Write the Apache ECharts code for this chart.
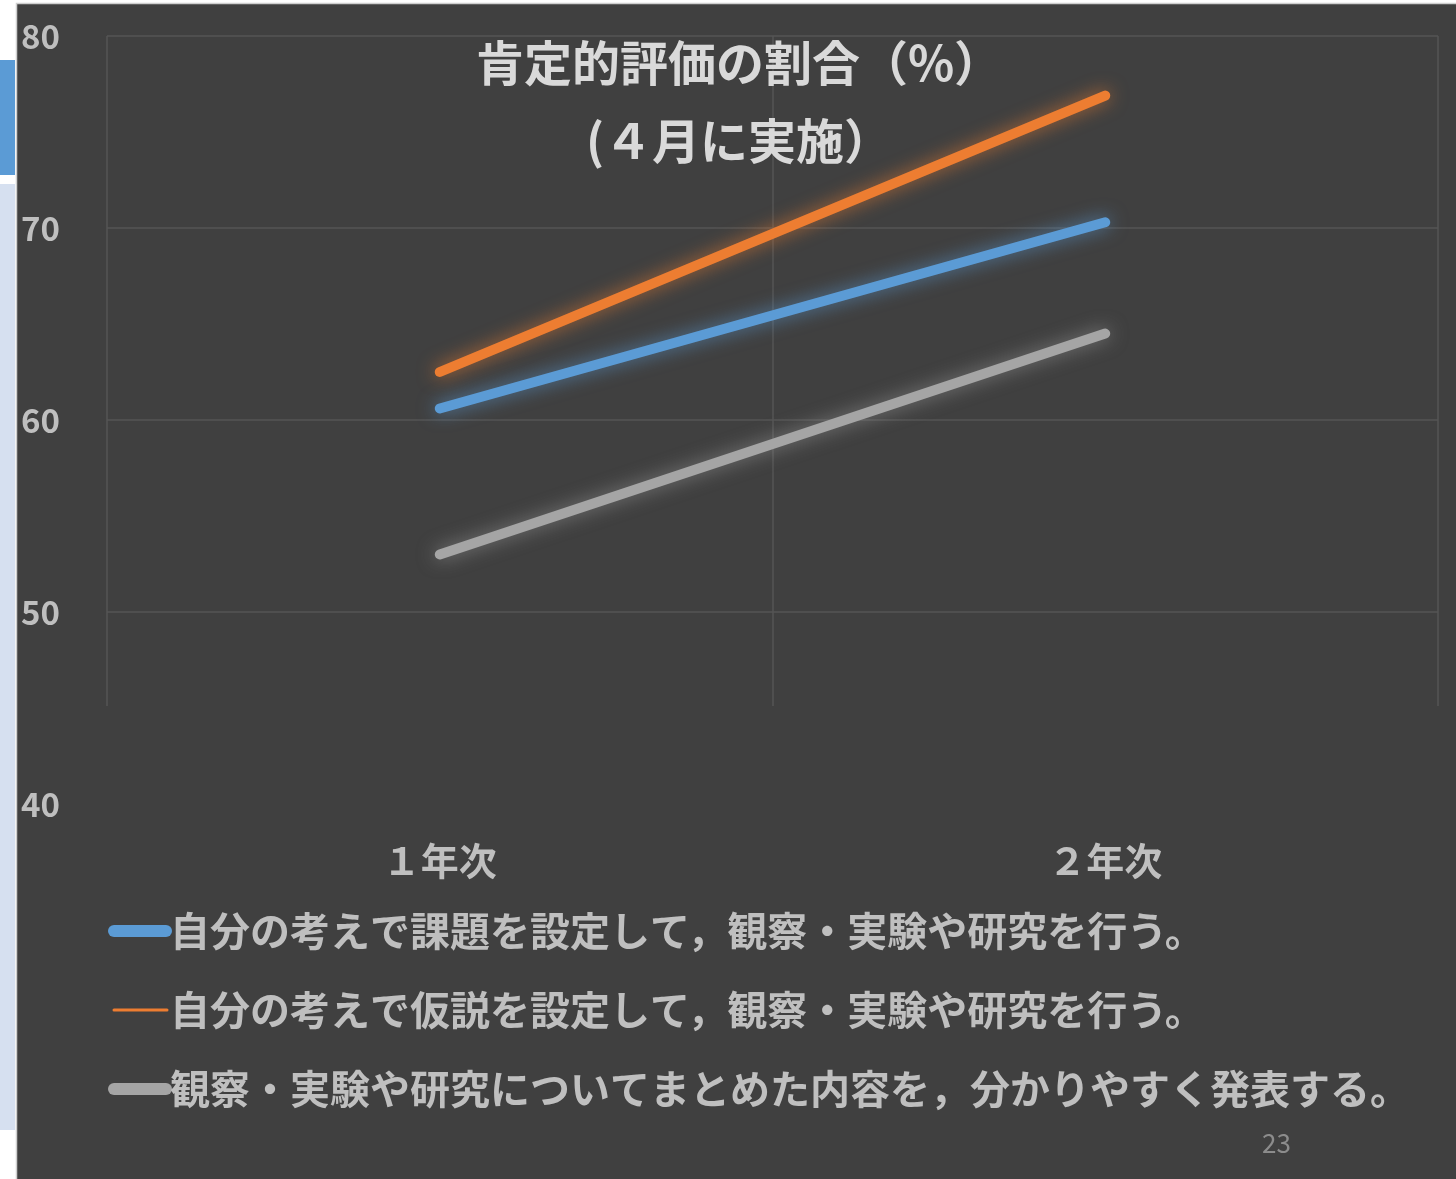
<!DOCTYPE html>
<html>
<head>
<meta charset="utf-8">
<script src="https://cdn.jsdelivr.net/npm/echarts@6/dist/echarts.min.js"></script>
<style>
html,body{margin:0;padding:0;background:#ffffff;}
#c{width:1456px;height:1179px;}
</style>
</head>
<body>
<div id="c"></div>
<script>
const categories = ['１年次', '２年次'];
const seriesNames = [
  '自分の考えで課題を設定して，観察・実験や研究を行う。',
  '自分の考えで仮説を設定して，観察・実験や研究を行う。',
  '観察・実験や研究についてまとめた内容を，分かりやすく発表する。'
];
const seriesKadai = [60.6, 70.3];
const seriesKasetsu = [62.5, 76.9];
const seriesHappyo = [53.0, 64.5];
const colors = ['#5b9bd5', '#ed7d31', '#a5a5a5'];
const glow = ['rgba(91,155,213,0.7)', 'rgba(237,125,49,0.7)', 'rgba(165,165,165,0.6)'];
const yMin = 40, yMax = 80, yStep = 10;

const FONT = '"Noto Sans CJK JP", "Noto Sans", sans-serif';
const thickIcon = 'path://M6,0 H58 A6,6 0 0 1 58,12 H6 A6,6 0 0 1 6,0 Z';
const thinIcon = 'path://M0,0 L0.01,0 Z M64,12 L63.99,12 Z M6,4.5 H59 A1.5,1.5 0 0 1 59,7.5 H6 A1.5,1.5 0 0 1 6,4.5 Z';

const chart = echarts.init(document.getElementById('c'));
const allData = [seriesKadai, seriesKasetsu, seriesHappyo];

chart.setOption({
  animation: false,
  backgroundColor: 'transparent',
  graphic: [
    { type: 'rect', z: -10, shape: { x: 16.5, y: 3.5, width: 1450, height: 1190 },
      style: { fill: '#404040', stroke: '#cfcfcf', lineWidth: 1.5 } },
    { type: 'rect', z: -10, shape: { x: 0, y: 60, width: 15, height: 115 },
      style: { fill: '#5b9bd5' } },
    { type: 'rect', z: -10, shape: { x: 0, y: 184, width: 15, height: 946 },
      style: { fill: '#d6e0f0' } },
    { type: 'rect', z: 1, shape: { x: 100, y: 706, width: 1350, height: 102 },
      style: { fill: '#404040' } },
    { type: 'text', z: 10, left: 1262, top: 1130,
      style: { text: '23', fill: '#8c8c8c', font: '26px ' + FONT } }
  ],
  title: {
    text: '肯定的評価の割合（%）\n(４月に実施）',
    left: 734,
    textAlign: 'center',
    top: 19,
    textStyle: { color: '#d9d9d9', fontSize: 48, fontWeight: 'bold', lineHeight: 78, fontFamily: FONT }
  },
  legend: {
    orient: 'vertical',
    left: 103,
    top: 904,
    itemWidth: 64,
    itemHeight: 12,
    itemGap: 35,
    symbolKeepAspect: true,
    textStyle: { color: '#bfbfbf', fontSize: 40, fontWeight: 'bold', fontFamily: FONT, lineHeight: 44, padding: [0, 0, 0, -7] },
    data: [
      { name: seriesNames[0], icon: thickIcon, itemStyle: { color: colors[0] } },
      { name: seriesNames[1], icon: thinIcon, itemStyle: { color: colors[1] } },
      { name: seriesNames[2], icon: thickIcon, itemStyle: { color: colors[2] } }
    ]
  },
  grid: { left: 107, right: 18, top: 36, bottom: 375, containLabel: false },
  xAxis: {
    type: 'category',
    data: categories,
    boundaryGap: true,
    axisLine: { show: false },
    axisTick: { show: false },
    splitLine: { show: true, lineStyle: { color: '#555555', width: 1.5 } },
    axisLabel: { color: '#bfbfbf', fontSize: 38, fontWeight: 'bold', fontFamily: FONT, margin: 38 }
  },
  yAxis: {
    type: 'value',
    min: yMin, max: yMax, interval: yStep,
    axisLine: { show: false },
    axisTick: { show: false },
    splitLine: { show: true, showMinLine: false, lineStyle: { color: '#555555', width: 1.5 } },
    axisLabel: { color: '#bfbfbf', fontSize: 33, fontWeight: 'bold', fontFamily: FONT, align: 'left', margin: 86 }
  },
  series: allData.map((d, i) => ({
    name: seriesNames[i],
    type: 'line',
    data: d,
    showSymbol: false,
    symbol: 'none',
    color: colors[i],
    lineStyle: { color: colors[i], width: 10, cap: 'round', shadowColor: glow[i], shadowBlur: 18 },
    z: 3
  }))
});
</script>
</body>
</html>
